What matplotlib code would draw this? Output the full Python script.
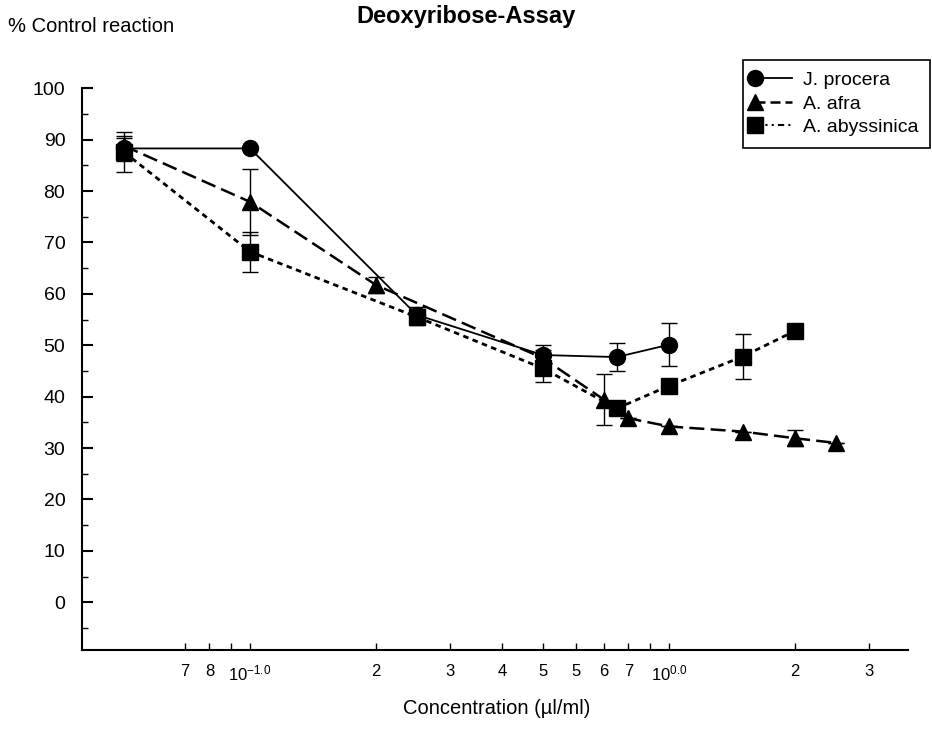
import numpy as np
import matplotlib
matplotlib.use('Agg')
import matplotlib.pyplot as plt
from matplotlib.lines import Line2D
from matplotlib.legend_handler import HandlerLine2D
from matplotlib.ticker import FixedLocator, NullFormatter

plt.rcParams['font.family'] = ['Liberation Sans', 'DejaVu Sans']
plt.rcParams['mathtext.fontset'] = 'custom'
plt.rcParams['mathtext.rm'] = 'Liberation Sans'
plt.rcParams['mathtext.it'] = 'Liberation Sans'

# data
jp_x = [0.05, 0.1, 0.25, 0.5, 0.75, 1.0]
jp_y = [88.3, 88.3, 55.9, 48.1, 47.7, 50.1]
jp_err = [2.5, 0.0, 1.5, 2.0, 2.8, 4.2]

af_x = [0.05, 0.1, 0.2, 0.5, 0.7, 0.8, 1.0, 1.5, 2.0, 2.5]
af_y = [88.8, 77.9, 61.7, 47.5, 39.4, 35.8, 34.2, 33.2, 31.9, 31.0]
af_err = [1.5, 6.4, 1.5, 1.5, 5.0, 0.0, 0.0, 0.0, 1.6, 0.0]

ab_x = [0.05, 0.1, 0.25, 0.5, 0.75, 1.0, 1.5, 2.0]
ab_y = [87.6, 68.2, 55.5, 45.5, 37.7, 42.1, 47.8, 52.8]
ab_err = [3.8, 3.9, 1.5, 2.6, 0.0, 0.0, 4.4, 0.0]

x_ticks = [0.07, 0.08, 0.09, 0.1, 0.2, 0.3, 0.4, 0.5, 0.6, 0.7, 0.8, 0.9, 1.0, 2.0, 3.0]
x_labels = ['7', '8', '', r'$10^{-1.0}$', '2', '3', '4', '5', '5', '6', '7', '', r'$10^{0.0}$', '2', '3']
y_ticks = [0, 10, 20, 30, 40, 50, 60, 70, 80, 90, 100]


class MarkerLeft(HandlerLine2D):
    # marker at the left end, line running to the right (as in the original legend)
    def create_artists(self, legend, orig_handle, xdescent, ydescent,
                       width, height, fontsize, trans):
        x0 = -xdescent
        y = (height - ydescent) / 2
        line = Line2D([x0, x0 + width], [y, y], markevery=[0])
        self.update_prop(line, orig_handle, legend)
        line.set_transform(trans)
        return [line]


fig = plt.figure(figsize=(9.32, 7.29), dpi=100)
ax = fig.add_axes([82 / 932, 79 / 729, 826 / 932, 561.7 / 729])

ab_ls = (0, (2, 1.6))
af_ls = (0, (6, 2.5))

ax.errorbar(ab_x, ab_y, yerr=ab_err, color='black', lw=2, ls=ab_ls,
            marker='s', ms=11, ecolor='black', elinewidth=1, capsize=6, capthick=1)
ax.errorbar(af_x, af_y, yerr=af_err, color='black', lw=1.8, ls=af_ls,
            marker='^', ms=12, ecolor='black', elinewidth=1, capsize=6, capthick=1)
ax.errorbar(jp_x, jp_y, yerr=jp_err, color='black', lw=1.3, ls='-',
            marker='o', ms=11.5, ecolor='black', elinewidth=1, capsize=6, capthick=1)

ax.set_xscale('log')
ax.set_xlim(0.0397, 3.72)
ax.set_ylim(-9.3, 100)

ax.spines['top'].set_visible(False)
ax.spines['right'].set_visible(False)
ax.spines['left'].set_linewidth(1.5)
ax.spines['bottom'].set_linewidth(1.5)

ax.xaxis.set_major_locator(FixedLocator(x_ticks))
ax.set_xticklabels(x_labels)
ax.xaxis.set_minor_locator(FixedLocator([]))
ax.xaxis.set_minor_formatter(NullFormatter())
ax.tick_params(axis='x', direction='in', length=5, width=1, labelsize=12, pad=10)

ax.set_yticks(y_ticks)
ax.set_yticks(np.arange(-5, 100, 10), minor=True)
ax.tick_params(axis='y', which='major', direction='in', length=8, width=1.5, labelsize=14, pad=12)
ax.tick_params(axis='y', which='minor', direction='in', length=4, width=1)

handles = [
    Line2D([], [], color='black', lw=1.3, ls='-', marker='o', ms=11.5),
    Line2D([], [], color='black', lw=1.8, ls=(0, (4, 2)), marker='^', ms=12),
    Line2D([], [], color='black', lw=1.5, ls=(0, (3, 2, 1, 2, 1, 2)), marker='s', ms=11),
]
leg = fig.legend(handles, ['J. procera', 'A. afra', 'A. abyssinica'],
                 loc='upper left', bbox_to_anchor=(743 / 932, 1 - 60 / 729),
                 bbox_transform=fig.transFigure, fontsize=14, frameon=True,
                 fancybox=False, edgecolor='black', framealpha=1, borderaxespad=0,
                 handlelength=1.9, handletextpad=0.6, labelspacing=0.3,
                 borderpad=0.6, handler_map={Line2D: MarkerLeft()})
leg.get_frame().set_linewidth(1.2)

fig.text(0.5, 1 - 16 / 729, 'Deoxyribose-Assay', ha='center', va='center',
         fontsize=17, fontweight='bold')
fig.text(8 / 932, 1 - 27 / 729, '% Control reaction', ha='left', va='center', fontsize=14.5)
fig.text(497 / 932, 1 - 708 / 729, 'Concentration (µl/ml)', ha='center', va='center', fontsize=14.5)

fig.savefig('out.png', dpi=100)
